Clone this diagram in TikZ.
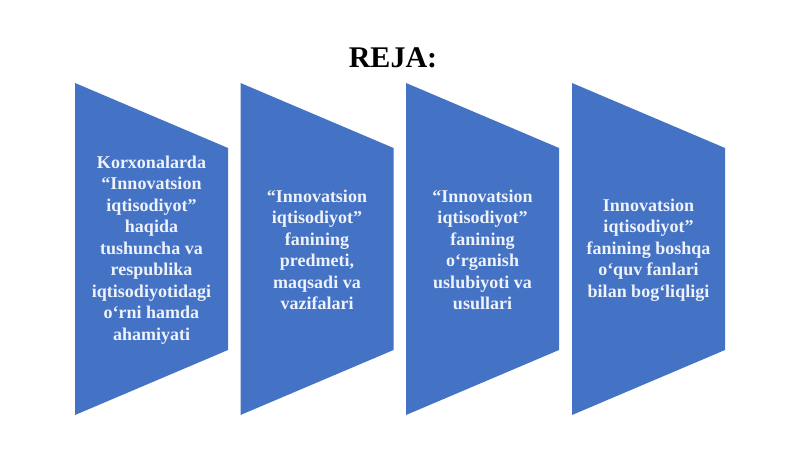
\documentclass[tikz,border=0pt]{standalone}
\usepackage{fontspec}
\setmainfont{Liberation Serif}
\definecolor{boxblue}{HTML}{4472C4}
\definecolor{boxtext}{HTML}{EEF2FA}
\tikzset{
  planbox/.style={fill=boxblue},
  plantext/.style={text=boxtext, align=center, font=\fontsize{18}{21.5}\selectfont\bfseries, inner sep=0pt},
  titletext/.style={font=\fontsize{30}{34}\selectfont\bfseries, text=black, inner sep=0pt}
}
\begin{document}
\begin{tikzpicture}[x=1pt,y=-1pt]
\useasboundingbox (0,0) rectangle (800,449);
\fill[white] (0,0) rectangle (800,449);
\node[titletext, anchor=base] (title) at (393,68) {REJA:};
\foreach \i/\xl in {1/75,2/240.5,3/406,4/572}{
  \fill[planbox] (\xl,83) -- (\xl+153,148) -- (\xl+153,350) -- (\xl,415) -- cycle;
}
\node[plantext] (t1) at (151.5,250) {Korxonalarda\\“Innovatsion\\iqtisodiyot”\\haqida\\tushuncha va\\respublika\\iqtisodiyotidagi\\o‘rni hamda\\ahamiyati};
\node[plantext] (t2) at (317,250) {“Innovatsion\\iqtisodiyot”\\fanining\\predmeti,\\maqsadi va\\vazifalari};
\node[plantext] (t3) at (482.5,250) {“Innovatsion\\iqtisodiyot”\\fanining\\o‘rganish\\uslubiyoti va\\usullari};
\node[plantext] (t4) at (648.5,250) {Innovatsion\\iqtisodiyot”\\fanining boshqa\\o‘quv fanlari\\bilan bog‘liqligi};
\end{tikzpicture}
\end{document}
